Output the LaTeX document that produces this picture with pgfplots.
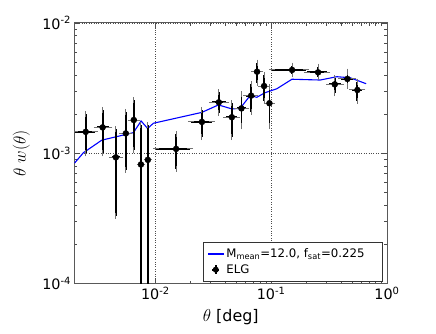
\documentclass[border=0pt]{standalone}
\usepackage{fontspec}
\setmainfont{DejaVu Sans}
\usepackage{pgfplots}
\pgfplotsset{compat=1.18}

\begin{document}
\begin{tikzpicture}
\begin{axis}[
  scale only axis, width=312.5bp, height=260.5bp,
  xmode=log, ymode=log,
  xmin=0.002, xmax=1, ymin=1e-4, ymax=1e-2,
  xtick={0.01,0.1,1}, xticklabels={10\textsuperscript{-2},10\textsuperscript{-1},10\textsuperscript{0}},
  ytick={1e-4,1e-3,1e-2}, yticklabels={10\textsuperscript{-4},10\textsuperscript{-3},10\textsuperscript{-2}},
  tick label style={font=\fontsize{14.4}{16}\selectfont},
  tick align=inside, major tick length=6bp, minor tick length=3bp,
  every tick/.style={black!70, line width=0.6bp},
  axis line style={black!65, line width=1bp},
  grid=major, grid style={dotted, black!70, line width=0.6bp},
  xlabel={$\theta$ [deg]}, ylabel={$\theta\ w(\theta)$},
  every axis x label/.style={at={(axis description cs:0.5,-0.129)}, anchor=center, font=\fontsize{16}{18}\selectfont},
  every axis y label/.style={at={(axis description cs:-0.17,0.5)}, rotate=90, anchor=center, font=\fontsize{16}{18}\selectfont},
  legend style={at={(rel axis cs:0.987,0.007)}, anchor=south east, font=\fontsize{11.8}{13}\selectfont,
    draw=black!80, line width=0.8bp, cells={anchor=west}, row sep=1.5bp, inner xsep=4bp, inner ysep=4.5bp},
]
\coordinate (bl) at (rel axis cs:0,0);
\coordinate (tr) at (rel axis cs:1,1);
% model
\addplot[blue, line width=1.1bp,
  legend image code/.code={\draw[blue, line width=1.3bp] (0cm,0cm) -- (0.55cm,0cm);}] coordinates {
  (0.002,0.84e-3) (0.00239,1.01e-3) (0.00344,1.26e-3) (0.00646,1.44e-3) (0.00752,1.77e-3)
  (0.00856,1.55e-3) (0.00961,1.70e-3) (0.0252,2.06e-3) (0.035,2.35e-3) (0.0457,2.19e-3)
  (0.0539,2.21e-3) (0.0657,2.77e-3) (0.0751,2.69e-3) (0.0886,2.92e-3) (0.112,3.13e-3)
  (0.151,3.70e-3) (0.265,3.65e-3) (0.369,3.87e-3) (0.48,3.80e-3) (0.66,3.42e-3)};
\addlegendentry{M\textsubscript{mean}=12.0, f\textsubscript{sat}=0.225\rule{12bp}{0pt}}
% ELG measurements
\addplot[only marks, mark=*, mark size=3bp, black,
  legend image code/.code={
    \draw[line width=1.8bp] (0.27cm,-0.15cm) -- (0.27cm,0.15cm);
    \draw[line width=1.8bp] (0.15cm,0cm) -- (0.39cm,0cm);
    \fill (0.27cm,0cm) circle (2.6bp);},
  error bars/.cd, x dir=both, x explicit, y dir=both, y explicit,
  error bar style={line width=1.8bp, black},
  error mark options={black!55, line width=1bp, mark size=3bp},
  ] coordinates {
  (0.0025,1.46e-3) += (0.0005,0.53e-3) -= (0.00048,0.46e-3)
  (0.0035,1.58e-3) += (0.0005,0.57e-3) -= (0.0004,0.58e-3)
  (0.00455,0.93e-3) += (0.0004,0.60e-3) -= (0.00035,0.60e-3)
  (0.00555,1.42e-3) += (0.0004,0.66e-3) -= (0.0004,0.67e-3)
  (0.0065,1.80e-3) += (0.0005,0.76e-3) -= (0.0004,0.75e-3)
  (0.0075,0.82e-3) += (0.0002,0.82e-3) -= (0.0002,0.8199e-3)
  (0.0086,0.89e-3) += (0.0002,0.75e-3) -= (0.0002,0.8899e-3)
  (0.0151,1.08e-3) += (0.0048,0.32e-3) -= (0.005,0.32e-3)
  (0.0252,1.74e-3) += (0.0053,0.41e-3) -= (0.005,0.41e-3)
  (0.0353,2.46e-3) += (0.0053,0.48e-3) -= (0.0046,0.43e-3)
  (0.0457,1.89e-3) += (0.0048,0.53e-3) -= (0.0049,0.56e-3)
  (0.0553,2.21e-3) += (0.0054,0.62e-3) -= (0.0048,0.60e-3)
  (0.0671,2.77e-3) += (0.0055,0.64e-3) -= (0.0064,0.68e-3)
  (0.0755,4.23e-3) += (0.0047,0.73e-3) -= (0.0039,0.75e-3)
  (0.0868,3.28e-3) += (0.005,0.71e-3) -= (0.0055,0.76e-3)
  (0.0965,2.42e-3) += (0.0047,0.80e-3) -= (0.0049,0.80e-3)
  (0.1515,4.36e-3) += (0.0486,0.34e-3) -= (0.0503,0.32e-3)
  (0.254,4.18e-3) += (0.052,0.44e-3) -= (0.051,0.35e-3)
  (0.354,3.38e-3) += (0.047,0.38e-3) -= (0.038,0.50e-3)
  (0.455,3.72e-3) += (0.058,0.51e-3) -= (0.054,0.43e-3)
  (0.555,3.06e-3) += (0.058,0.48e-3) -= (0.053,0.53e-3)
};
\addlegendentry{ELG}
\end{axis}
\pgfresetboundingbox
\path (bl) ++(-74.5bp,-50.5bp) coordinate (a);
\path (tr) ++(49bp,23bp) coordinate (b);
\path (a) rectangle (b);
\end{tikzpicture}
\end{document}
